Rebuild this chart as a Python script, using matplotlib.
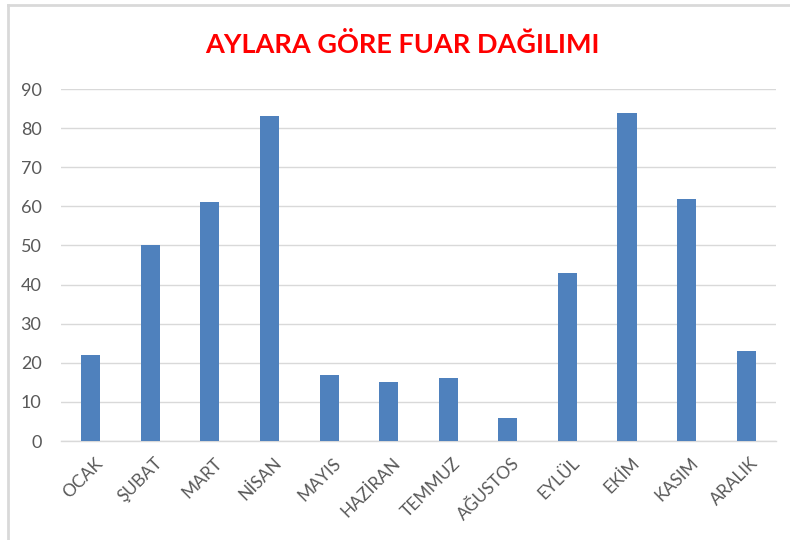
import matplotlib.pyplot as plt
from matplotlib.lines import Line2D
import matplotlib.transforms as mtransforms
import numpy as np

months = ["OCAK", "ŞUBAT", "MART", "NİSAN", "MAYIS", "HAZİRAN",
          "TEMMUZ", "AĞUSTOS", "EYLÜL", "EKİM", "KASIM", "ARALIK"]
fair_counts = [22, 50, 61, 83, 17, 15, 16, 6, 43, 84, 62, 23]
y_ticks = [0, 10, 20, 30, 40, 50, 60, 70, 80, 90]

plt.rcParams['font.family'] = ['Lato', 'DejaVu Sans']

fig = plt.figure(figsize=(7.9, 5.4), dpi=100)
ax = fig.add_axes([0.0772, 0.1833, 0.905, 0.6518])

x = np.arange(len(months))
ax.bar(x, fair_counts, width=0.32, color="#4F81BD", zorder=3)

ax.set_xlim(-0.5, len(months) - 0.5)
ax.set_ylim(0, 90)
ax.set_yticks(y_ticks)
ax.tick_params(axis='y', length=0, pad=14, labelsize=13, labelcolor="#595959")
ax.tick_params(axis='x', length=0, pad=10, labelsize=12.5, labelcolor="#595959")
ax.set_xticks(x)
ax.set_xticklabels(months, rotation=45, ha='right', va='top', rotation_mode='anchor')
# nudge rotated labels a little to the right, like the original
shift = mtransforms.ScaledTranslation(4 / 100, 0, fig.dpi_scale_trans)
for lbl in ax.get_xticklabels():
    lbl.set_transform(lbl.get_transform() + shift)

ax.grid(axis='y', color="#D9D9D9", linewidth=1, zorder=0)
for side in ['top', 'right', 'left']:
    ax.spines[side].set_visible(False)
ax.spines['bottom'].set_color("#D9D9D9")
ax.spines['bottom'].set_linewidth(1)

fig.text(0.51, 0.918, "AYLARA GÖRE FUAR DAĞILIMI", color="#FF0000",
         fontsize=19.5, fontweight='bold', ha='center', va='center')

# outer chart frame (only left/top edges visible in the crop)
fig.add_artist(Line2D([0.0101, 0.0101], [0.0, 0.991], color="#D9D9D9", linewidth=2))
fig.add_artist(Line2D([0.0101, 1.0], [0.991, 0.991], color="#D9D9D9", linewidth=2))

fig.savefig("out.png", dpi=100)
